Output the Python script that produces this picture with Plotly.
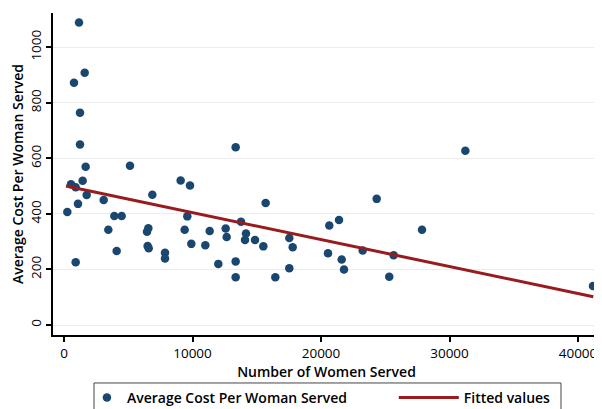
import plotly.graph_objects as go

# Scatter data: Number of Women Served vs Average Cost Per Woman Served
women_served = [
    1167, 1610, 778, 1245, 1245, 1686, 5136, 1452, 545, 908,
    1764, 3087, 6874, 1089, 259, 3917, 4488, 3450, 6563, 6459,
    4099, 6510, 6589, 908, 7860, 7860, 13359, 9078, 9805, 15693,
    9598, 13774, 9390, 11336, 12581, 12659, 14163, 14086, 14864, 15513,
    17533, 17797, 9909, 10999, 12010, 13359, 17533, 13359, 16446, 24333,
    21401, 20646, 27860, 20545, 21610, 23243, 25654, 21790, 25311, 31233,
    41167,
]
avg_cost = [
    1089, 908, 872, 764, 650, 570, 573, 519, 507, 496,
    468, 450, 469, 436, 407, 392, 392, 343, 348, 336,
    266, 284, 276, 226, 260, 239, 640, 520, 502, 439,
    391, 372, 343, 338, 347, 317, 329, 306, 306, 283,
    313, 280, 292, 287, 220, 229, 204, 172, 172, 454,
    378, 358, 343, 258, 236, 268, 251, 200, 174, 627,
    140,
]

# Fitted values (linear fit) endpoints
fit_x = [155, 41190]
fit_y = [500, 102]

x_ticks = [0, 10000, 20000, 30000, 40000]
y_ticks = [0, 200, 400, 600, 800, 1000]

FONT = "Open Sans"

fig = go.Figure()
fig.add_trace(go.Scatter(
    x=women_served, y=avg_cost, mode="markers",
    name="Average Cost Per Woman Served", legend="legend",
    marker=dict(color="#1a476f", size=8.5, line=dict(width=0)),
))
fig.add_trace(go.Scatter(
    x=fit_x, y=fit_y, mode="lines", name="Fitted values", legend="legend2",
    line=dict(color="#981b1e", width=3),
))

legend_font = dict(family=FONT, size=14, color="black", weight=600)

# page body adds an 8px offset; figure sized so it ends at the window edge
fig.update_layout(
    width=594, height=401,
    margin=dict(l=45, r=2, t=5, b=74, autoexpand=False),
    paper_bgcolor="white", plot_bgcolor="white",
    font=dict(family=FONT, size=13, color="black"),
    showlegend=True,
    legend=dict(
        orientation="h", x=0.062, xanchor="left", y=-0.146, yanchor="top",
        borderwidth=0, bgcolor="rgba(0,0,0,0)", font=legend_font,
        itemwidth=30,
    ),
    legend2=dict(
        orientation="h", x=0.623, xanchor="left", y=-0.146, yanchor="top",
        borderwidth=0, bgcolor="rgba(0,0,0,0)", font=legend_font,
        itemwidth=60,
    ),
    shapes=[dict(
        type="rect", xref="paper", yref="paper",
        x0=0.075, x1=0.9287, y0=-0.149, y1=-0.4,
        line=dict(color="#444444", width=1), fillcolor="rgba(0,0,0,0)",
        layer="below",
    )],
)
fig.update_xaxes(
    range=[-856, 41712], tickvals=x_ticks, ticktext=[str(v) for v in x_ticks],
    showgrid=False, zeroline=False,
    showline=True, linecolor="black", linewidth=2,
    ticks="outside", ticklen=5, tickwidth=1.5, tickcolor="black",
    tickfont=dict(size=13.5),
    title=dict(text="Number of Women Served", standoff=0,
               font=dict(size=14, weight=600)),
)
fig.update_yaxes(
    range=[-36, 1123], tickvals=y_ticks, ticktext=[str(v) for v in y_ticks],
    showgrid=True, gridcolor="#ececec", gridwidth=1.2, zeroline=False,
    showline=True, linecolor="black", linewidth=2,
    ticks="outside", ticklen=5, tickwidth=1.5, tickcolor="black",
    tickangle=-90, tickfont=dict(size=13.5),
    title=dict(text="Average Cost Per Woman Served", standoff=0,
               font=dict(size=14, weight=600)),
)

fig.write_html("out.html")
